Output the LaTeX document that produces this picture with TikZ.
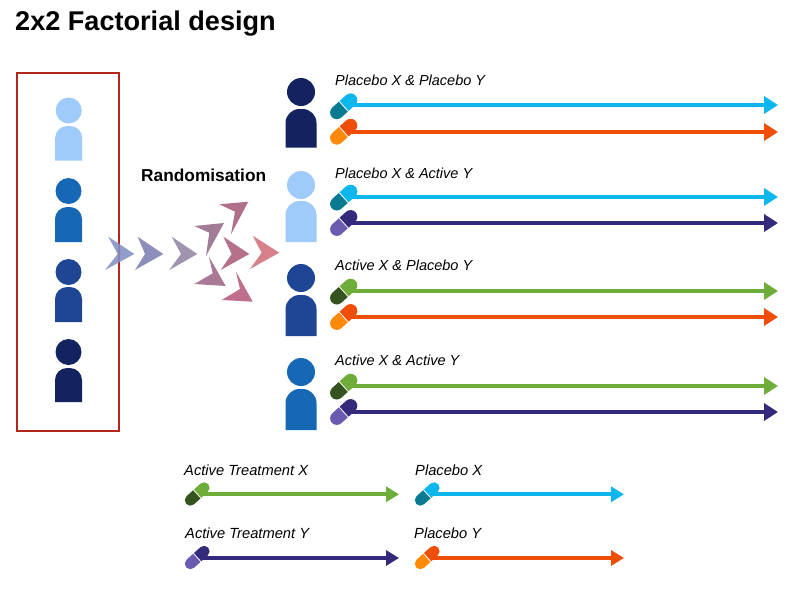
\documentclass[tikz,border=0pt]{standalone}
\usepackage{fontspec}
\setmainfont{Liberation Sans}
\usetikzlibrary{arrows.meta}
\definecolor{plight}{HTML}{9FCBFA}
\definecolor{pmid}{HTML}{1668B5}
\definecolor{pdeep}{HTML}{1E4695}
\definecolor{pdark}{HTML}{13235F}
\definecolor{boxred}{HTML}{B3261E}
\definecolor{cyanU}{HTML}{0DB7EE}
\definecolor{cyanL}{HTML}{0A7A93}
\definecolor{oranU}{HTML}{EE4E08}
\definecolor{oranL}{HTML}{FF8A0A}
\definecolor{greenU}{HTML}{6FAD3A}
\definecolor{greenL}{HTML}{33531F}
\definecolor{purpU}{HTML}{332A7C}
\definecolor{purpL}{HTML}{6B5BB0}
\definecolor{cA}{HTML}{8490C4}
\definecolor{cB}{HTML}{8C8FBC}
\definecolor{cC}{HTML}{A093AE}
\definecolor{cD}{HTML}{A07C96}
\definecolor{cE}{HTML}{B06F8A}
\definecolor{cF}{HTML}{B5708A}
\definecolor{cG}{HTML}{D6808A}
\definecolor{cH}{HTML}{A87A95}
\definecolor{cI}{HTML}{BF6F8C}
\tikzset{
  x=1pt,y=-1pt,
  title/.style={font=\bfseries\fontsize{27.1}{30}\selectfont,anchor=west,inner sep=0pt},
  headline/.style={font=\bfseries\fontsize{17.3}{20}\selectfont,anchor=west,inner sep=0pt},
  armlabel/.style={font=\itshape\fontsize{14.5}{17}\selectfont,anchor=west,inner sep=0pt},
  keylabel/.style={font=\itshape\fontsize{14.7}{17}\selectfont,anchor=west,inner sep=0pt},
  armline/.style={line width=4.6pt,-{Triangle[length=14pt,width=17pt]}},
  keyline/.style={line width=4.3pt,-{Triangle[length=13pt,width=15pt]}},
}
% \pers{x}{head y}{head r}{half width}{body top}{body bottom}{colour}
\newcommand{\pers}[7]{%
  \fill[#7] (#1,#2) circle[radius=#3pt];
  \fill[#7] (#1-#4,#6) [rounded corners=#4pt-1.5pt] -- (#1-#4,#5) -- (#1+#4,#5) [sharp corners] -- (#1+#4,#6) -- cycle;
}
% \pill{name}{x}{y}{upper}{lower}{half length}{radius}
\newcommand{\pill}[7]{%
  \coordinate (#1) at (#2,#3);
  \begin{scope}[shift={(#2,#3)},rotate=42]
    \fill[#5] (-#6+#7,0) circle[radius=#7pt] (-#6+#7,-#7) rectangle (0,#7);
    \fill[#4] (#6-#7,0) circle[radius=#7pt] (0,-#7) rectangle (#6-#7,#7);
    \draw[white,line width=.8pt] (0,-#7-.5) -- (0,#7+.5);
  \end{scope}
}
\newcommand{\chev}[5]{\fill[#1] #2 -- #3 -- #4 -- #5 -- cycle;}
\begin{document}
\begin{tikzpicture}
\useasboundingbox (0,0) rectangle (800,600);
\fill[white] (0,0) rectangle (800,600);

\node[title] (ttl) at (15,24) {2x2 Factorial design};
\node[headline] (rnd) at (141,175) {Randomisation};

\draw[boxred,line width=2.4pt] (17,73) rectangle (119,431);

% participants in the box
\pers{68.7}{110.5}{13}{13.5}{126}{160.5}{plight}
\pers{68.5}{191}{13}{13.5}{207}{242}{pmid}
\pers{68.5}{272}{13}{13.5}{287}{322}{pdeep}
\pers{68.5}{352}{13}{13.5}{368}{402}{pdark}

% chevrons
\begin{scope}[opacity=.88]
\chev{cA}{(134.3,254)}{(108.3,236.7)}{(117.7,254)}{(105,270)}
\end{scope}
\chev{cB}{(163.3,254)}{(137.7,236.7)}{(145,254)}{(135,270)}
\chev{cC}{(197.3,254)}{(171.7,236.7)}{(181,254)}{(169.3,270)}
\chev{cD}{(224,223)}{(194.3,226)}{(209.3,232.7)}{(206,256)}
\chev{cE}{(248.3,201.7)}{(219.3,204.3)}{(235,211.7)}{(231,234.3)}
\chev{cF}{(249.3,254)}{(223.3,236.7)}{(231.7,254)}{(220.7,270)}
\chev{cG}{(279.3,252.7)}{(252.7,235.7)}{(261.7,252.7)}{(250,269)}
\chev{cH}{(225.7,286)}{(209,256.7)}{(212.7,273.3)}{(194.3,284)}
\chev{cI}{(252.7,301.7)}{(236,271.7)}{(240,289)}{(221.7,300)}

% arm participants
\pers{301}{92}{14}{15.5}{109}{147.5}{pdark}
\pers{301}{185}{14}{15.5}{201}{242}{plight}
\pers{301}{278}{14}{15.5}{295}{336}{pdeep}
\pers{301}{372}{14}{15.5}{389}{430}{pmid}

% arm labels
\node[armlabel] (l1) at (335,80) {Placebo X \& Placebo Y};
\node[armlabel] (l2) at (335,173) {Placebo X \& Active Y};
\node[armlabel] (l3) at (335,265) {Active X \& Placebo Y};
\node[armlabel] (l4) at (335,360) {Active X \& Active Y};

% end points of the arm arrows
\coordinate (e1) at (778,105);
\coordinate (e2) at (778,132);
\coordinate (e3) at (778,197);
\coordinate (e4) at (778,223);
\coordinate (e5) at (778,291);
\coordinate (e6) at (778,317);
\coordinate (e7) at (778,386);
\coordinate (e8) at (778,412);
\coordinate (s1) at (345,105);
\coordinate (s2) at (345,132);
\coordinate (s3) at (345,197);
\coordinate (s4) at (345,223);
\coordinate (s5) at (345,291);
\coordinate (s6) at (345,317);
\coordinate (s7) at (345,386);
\coordinate (s8) at (345,412);

\draw[armline,cyanU] (s1) -- (e1);
\draw[armline,oranU] (s2) -- (e2);
\draw[armline,cyanU] (s3) -- (e3);
\draw[armline,purpU] (s4) -- (e4);
\draw[armline,greenU] (s5) -- (e5);
\draw[armline,oranU] (s6) -- (e6);
\draw[armline,greenU] (s7) -- (e7);
\draw[armline,purpU] (s8) -- (e8);

\pill{p1}{343.7}{106.3}{cyanU}{cyanL}{16}{6.7}
\pill{p2}{343.7}{131.7}{oranU}{oranL}{16}{6.7}
\pill{p3}{343.7}{197.6}{cyanU}{cyanL}{16}{6.7}
\pill{p4}{343.7}{223}{purpU}{purpL}{16}{6.7}
\pill{p5}{343.7}{291.6}{greenU}{greenL}{16}{6.7}
\pill{p6}{343.7}{317}{oranU}{oranL}{16}{6.7}
\pill{p7}{343.7}{386.6}{greenU}{greenL}{16}{6.7}
\pill{p8}{343.7}{412}{purpU}{purpL}{16}{6.7}

% key
\node[keylabel] (k1) at (184,470) {Active Treatment X};
\node[keylabel] (k2) at (415,470) {Placebo X};
\node[keylabel] (k3) at (185,533) {Active Treatment Y};
\node[keylabel] (k4) at (414,533) {Placebo Y};

\coordinate (ks1) at (200,494.3);
\coordinate (ks2) at (430,494.3);
\coordinate (ks3) at (200,558);
\coordinate (ks4) at (430,558);
\coordinate (ke1) at (399,494.3);
\coordinate (ke2) at (624,494.3);
\coordinate (ke3) at (399,558);
\coordinate (ke4) at (624,558);

\draw[keyline,greenU] (ks1) -- (ke1);
\draw[keyline,cyanU] (ks2) -- (ke2);
\draw[keyline,purpU] (ks3) -- (ke3);
\draw[keyline,oranU] (ks4) -- (ke4);

\pill{q1}{197.2}{494}{greenU}{greenL}{14.8}{5.5}
\pill{q2}{427.2}{494}{cyanU}{cyanL}{14.8}{5.5}
\pill{q3}{197.2}{557.5}{purpU}{purpL}{14.8}{5.5}
\pill{q4}{427.2}{557.5}{oranU}{oranL}{14.8}{5.5}
\end{tikzpicture}
\end{document}
